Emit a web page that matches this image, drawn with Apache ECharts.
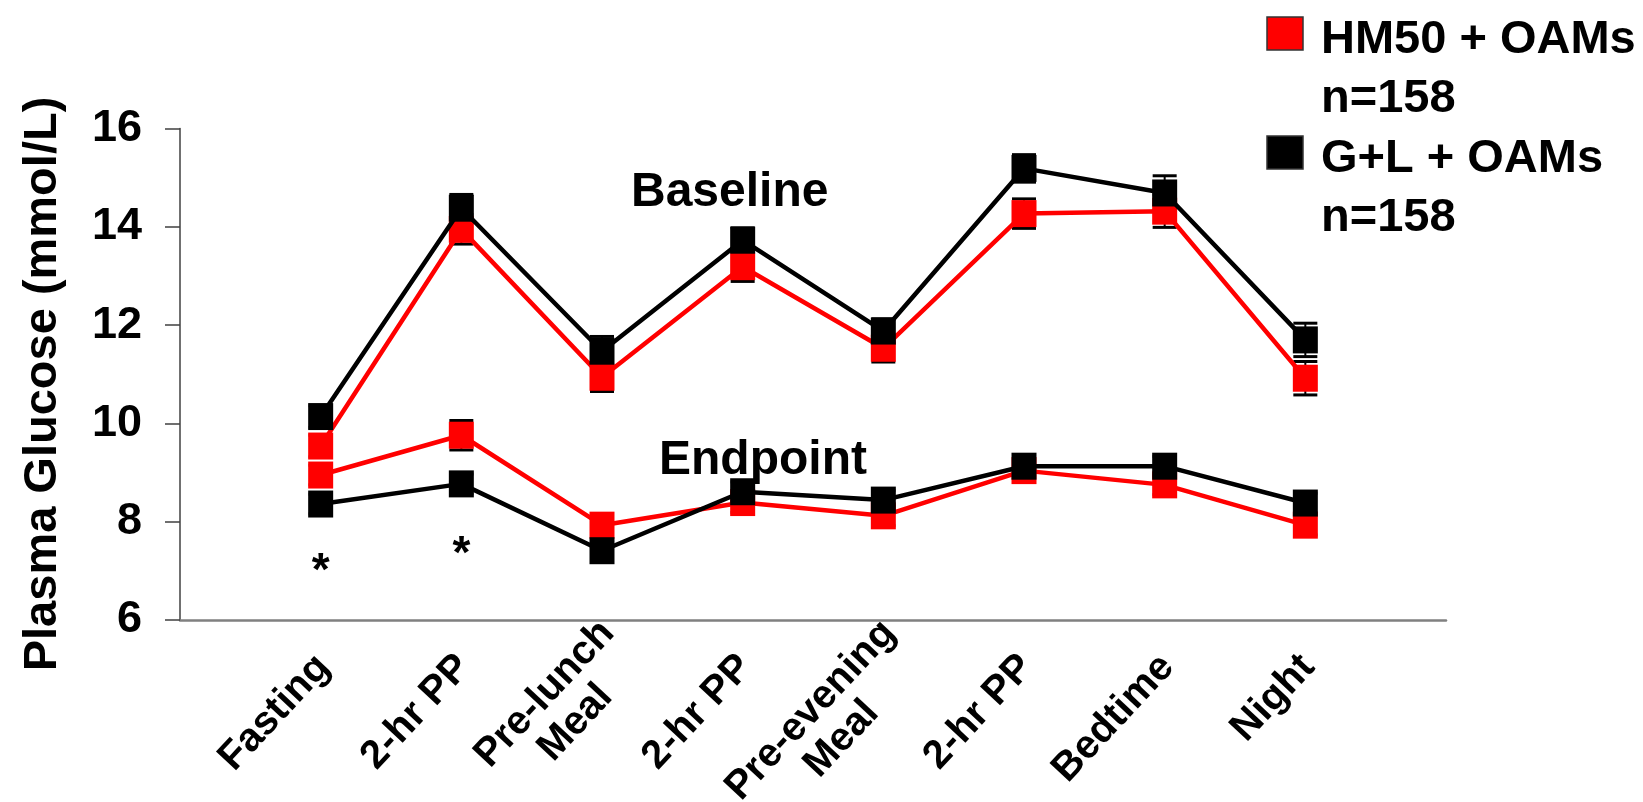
<!DOCTYPE html>
<html>
<head>
<meta charset="utf-8">
<script src="https://cdn.jsdelivr.net/npm/echarts@6/dist/echarts.min.js"></script>
<style>
html,body{margin:0;padding:0;background:#fff;overflow:hidden;}
#chart{width:1643px;height:802px;}
</style>
</head>
<body>
<div id="chart"></div>
<script>
const categories = ['Fasting', '2-hr PP', 'Pre-lunch\nMeal', '2-hr PP', 'Pre-evening\nMeal', '2-hr PP', 'Bedtime', 'Night'];
const yTicks = [6, 8, 10, 12, 14, 16];

const hm50Baseline = [9.54, 13.95, 10.94, 13.19, 11.53, 14.27, 14.32, 10.92];
const glBaseline   = [10.14, 14.38, 11.47, 13.73, 11.88, 15.19, 14.69, 11.70];
const hm50Endpoint = [8.95, 9.76, 7.93, 8.39, 8.12, 9.04, 8.75, 7.93];
const glEndpoint   = [8.36, 8.77, 7.41, 8.61, 8.44, 9.13, 9.13, 8.38];

const hm50BaselineErr = [0.22, 0.30, 0.29, 0.30, 0.28, 0.30, 0.33, 0.34];
const glBaselineErr   = [0.22, 0.28, 0.30, 0.25, 0.25, 0.28, 0.35, 0.34];
const hm50EndpointErr = [0.20, 0.30, 0.20, 0.20, 0.20, 0.20, 0.20, 0.20];
const glEndpointErr   = [0.20, 0.20, 0.20, 0.20, 0.20, 0.20, 0.20, 0.20];

const legendNames = ['HM50 + OAMs', 'G+L + OAMs'];
const legendN = ['n=158', 'n=158'];
const starPoints = [[0, 7.16], [1, 7.5]];
const yTitle = 'Plasma Glucose (mmol/L)';

const FONT = '"Liberation Sans", Arial, Helvetica, sans-serif';
const RED = '#ff0000';
const BLACK = '#000000';

function pts(vals) { return vals.map((v, i) => [i, v]); }
function errData(vals, errs) { return vals.map((v, i) => [i, v - errs[i], v + errs[i]]); }

function errSeries(vals, errs) {
  return {
    type: 'custom',
    z: 1,
    silent: true,
    data: errData(vals, errs),
    renderItem: function (params, api) {
      const lo = api.coord([api.value(0), api.value(1)]);
      const hi = api.coord([api.value(0), api.value(2)]);
      const hw = 12;
      const st = { stroke: BLACK, lineWidth: 3 };
      return {
        type: 'group',
        children: [
          { type: 'line', shape: { x1: lo[0], y1: lo[1], x2: hi[0], y2: hi[1] }, style: { stroke: BLACK, lineWidth: 2 } },
          { type: 'line', shape: { x1: lo[0] - hw, y1: lo[1], x2: lo[0] + hw, y2: lo[1] }, style: st },
          { type: 'line', shape: { x1: hi[0] - hw, y1: hi[1], x2: hi[0] + hw, y2: hi[1] }, style: st }
        ]
      };
    }
  };
}

function lineSeries(name, vals, color, z) {
  return {
    name: name,
    type: 'line',
    z: z,
    data: pts(vals),
    symbol: 'rect',
    symbolSize: [25, 27],
    lineStyle: { color: color, width: 4.5 },
    itemStyle: { color: color, borderWidth: 0 },
    emphasis: { disabled: true },
    animation: false
  };
}

function catLabel(v) {
  const i = Math.round(v);
  if (!(i >= 0 && i < categories.length && Math.abs(v - i) < 1e-6)) return '';
  const lines = categories[i].split('\n');
  if (lines.length === 1) return '{s|' + lines[0] + '}';
  return lines.map(s => '{d|' + s + '}').join('\n');
}

const LBL = { fontFamily: FONT, fontWeight: 'bold', fontSize: 40, lineHeight: 42, color: '#000' };

const chart = echarts.init(document.getElementById('chart'), null, { renderer: 'canvas' });

const option = {
  animation: false,
  backgroundColor: '#ffffff',
  grid: [
    { left: 180, right: 197, top: 128.6, bottom: 182, containLabel: false, outerBoundsMode: 'none' },
    { left: 201, right: 176, top: 128.6, bottom: 182, containLabel: false, outerBoundsMode: 'none' }
  ],
  xAxis: [
    {
      type: 'value',
      gridIndex: 0,
      min: -1,
      max: 8,
      interval: 1,
      splitLine: { show: false },
      axisTick: { show: false },
      axisLine: { show: true, onZero: false, lineStyle: { color: '#808080', width: 2.5 } },
      axisLabel: { show: false }
    },
    {
      type: 'value',
      gridIndex: 1,
      min: -1,
      max: 8,
      interval: 1,
      splitLine: { show: false },
      axisTick: { show: false },
      axisLine: { show: false, onZero: false },
      axisLabel: Object.assign({
        rotate: 47,
        margin: 21,
        verticalAlign: 'middle',
        formatter: catLabel,
        rich: {
          s: Object.assign({ padding: [0, 27, 0, 0] }, LBL),
          d: Object.assign({ align: 'center' }, LBL)
        }
      }, LBL)
    }
  ],
  yAxis: [
    {
      type: 'value',
      gridIndex: 0,
      min: 6,
      max: 16,
      interval: 2,
      splitLine: { show: false },
      axisLine: { show: true, onZero: false, lineStyle: { color: '#404040', width: 1.5 } },
      axisTick: { show: true, length: 15, inside: false, lineStyle: { color: '#404040', width: 1.5 } },
      axisLabel: {
        margin: 38,
        fontFamily: FONT,
        fontWeight: 'bold',
        fontSize: 45,
        color: '#000',
        formatter: function (v) { return yTicks.indexOf(v) >= 0 ? String(v) : ''; }
      }
    },
    {
      type: 'value',
      gridIndex: 1,
      min: 6,
      max: 16,
      show: false
    }
  ],
  series: [
    errSeries(hm50Baseline, hm50BaselineErr),
    errSeries(glBaseline, glBaselineErr),
    errSeries(hm50Endpoint, hm50EndpointErr),
    errSeries(glEndpoint, glEndpointErr),
    lineSeries(legendNames[0] + ' Baseline', hm50Baseline, RED, 3),
    lineSeries(legendNames[0] + ' Endpoint', hm50Endpoint, RED, 3),
    lineSeries(legendNames[1] + ' Baseline', glBaseline, BLACK, 4),
    lineSeries(legendNames[1] + ' Endpoint', glEndpoint, BLACK, 4),
    {
      type: 'scatter',
      z: 5,
      silent: true,
      symbol: 'circle',
      symbolSize: 2,
      itemStyle: { color: 'rgba(255,255,255,0)' },
      data: starPoints,
      label: {
        show: true,
        position: 'inside',
        formatter: '*',
        fontFamily: FONT,
        fontWeight: 'bold',
        fontSize: 46,
        color: '#000000',
        opacity: 1,
        textBorderWidth: 0,
        textBorderColor: 'transparent',
        offset: [0, 9]
      }
    }
  ],
  graphic: [
    { type: 'text', x: 43, y: 384, rotation: Math.PI / 2, style: { text: yTitle, font: 'bold 47px ' + FONT, fill: '#000', textAlign: 'center', textVerticalAlign: 'middle' } },
    { type: 'text', left: 631, top: 169, style: { text: 'Baseline', font: 'bold 48px ' + FONT, fill: '#000' } },
    { type: 'text', left: 659, top: 437, style: { text: 'Endpoint', font: 'bold 48px ' + FONT, fill: '#000' } },
    { type: 'rect', shape: { x: 1267, y: 17, width: 36, height: 33 }, style: { fill: RED, stroke: '#333', lineWidth: 1.5 } },
    { type: 'rect', shape: { x: 1267, y: 136, width: 36, height: 33 }, style: { fill: BLACK, stroke: '#333', lineWidth: 1.5 } },
    { type: 'text', x: 1321, y: 40, style: { text: legendNames[0], font: 'bold 47px ' + FONT, fill: '#000', textVerticalAlign: 'middle' } },
    { type: 'text', x: 1321, y: 99, style: { text: legendN[0], font: 'bold 47px ' + FONT, fill: '#000', textVerticalAlign: 'middle' } },
    { type: 'text', x: 1321, y: 159, style: { text: legendNames[1], font: 'bold 47px ' + FONT, fill: '#000', textVerticalAlign: 'middle' } },
    { type: 'text', x: 1321, y: 218, style: { text: legendN[1], font: 'bold 47px ' + FONT, fill: '#000', textVerticalAlign: 'middle' } }
  ]
};

chart.setOption(option);
</script>
</body>
</html>
